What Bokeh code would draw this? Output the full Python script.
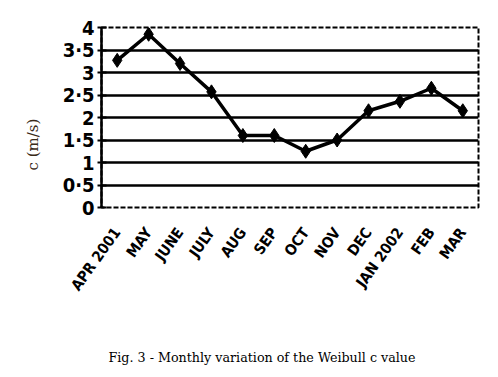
from bokeh.plotting import figure
from bokeh.models import Range1d, FixedTicker, Title
from bokeh.embed import file_html
from bokeh.resources import INLINE

months = ["APR 2001", "MAY", "JUNE", "JULY", "AUG", "SEP", "OCT", "NOV",
          "DEC", "JAN 2002", "FEB", "MAR"]
c_values = [3.27, 3.85, 3.2, 2.57, 1.6, 1.6, 1.25, 1.5, 2.15, 2.36, 2.65, 2.15]
y_ticks = [0, 0.5, 1, 1.5, 2, 2.5, 3, 3.5, 4]
y_tick_labels = ["0", "0·5", "1", "1·5", "2", "2·5", "3", "3·5", "4"]
grid_values = [0.5, 1, 1.5, 2, 2.5, 3, 3.5]
y_label = "c (m/s)"
caption = "Fig. 3 - Monthly variation of the Weibull c value"

p = figure(width=498, height=377, x_range=months, y_range=Range1d(0, 4),
           output_backend="svg", toolbar_location=None,
           min_border_left=101, min_border_right=20, min_border_top=27,
           min_border_bottom=170)
p.background_fill_color = "white"
p.border_fill_color = "white"

p.outline_line_color = "black"
p.outline_line_width = 2
p.outline_line_dash = "5 2"

# y axis
p.yaxis.ticker = FixedTicker(ticks=y_ticks)
p.yaxis.major_label_overrides = {t: l for t, l in zip(y_ticks, y_tick_labels)}
p.yaxis.major_label_text_font = "DejaVu Sans Condensed"
p.yaxis.major_label_text_font_style = "bold"
p.yaxis.major_label_text_font_size = "20px"
p.yaxis.major_label_text_color = "black"
p.yaxis.major_label_standoff = 3
p.yaxis.axis_line_color = "black"
p.yaxis.axis_line_width = 2.5
p.yaxis.major_tick_line_color = "black"
p.yaxis.major_tick_line_width = 2
p.yaxis.major_tick_in = 5
p.yaxis.major_tick_out = 4
p.yaxis.minor_tick_line_color = None

# x axis
p.xaxis.axis_line_color = None
p.xaxis.major_tick_line_color = None
p.xaxis.major_label_orientation = 0.95
p.xaxis.major_label_text_font = "DejaVu Sans Condensed"
p.xaxis.major_label_text_font_style = "bold"
p.xaxis.major_label_text_font_size = "15px"
p.xaxis.major_label_text_color = "black"
p.xaxis.major_label_standoff = 16
p.xaxis.axis_label = " "
p.xaxis.axis_label_text_font_size = "10px"
p.xaxis.axis_label_standoff = 19

# grid
p.xgrid.grid_line_color = None
p.ygrid.ticker = FixedTicker(ticks=grid_values)
p.ygrid.grid_line_color = "black"
p.ygrid.grid_line_width = 2.5

p.line(months, c_values, line_color="black", line_width=3.5)
p.scatter(months, c_values, marker="diamond", size=14, color="black")

p.add_layout(Title(text=y_label, align="left", offset=37, standoff=36,
                   text_font="DejaVu Serif", text_font_size="15px",
                   text_font_style="normal", text_color="#3a2a18"), "left")
p.add_layout(Title(text=caption, align="left", offset=7, standoff=24,
                   text_font="DejaVu Serif", text_font_size="12.7px",
                   text_font_style="normal", text_color="black"), "below")

open("out.html", "w").write(file_html(p, INLINE))
